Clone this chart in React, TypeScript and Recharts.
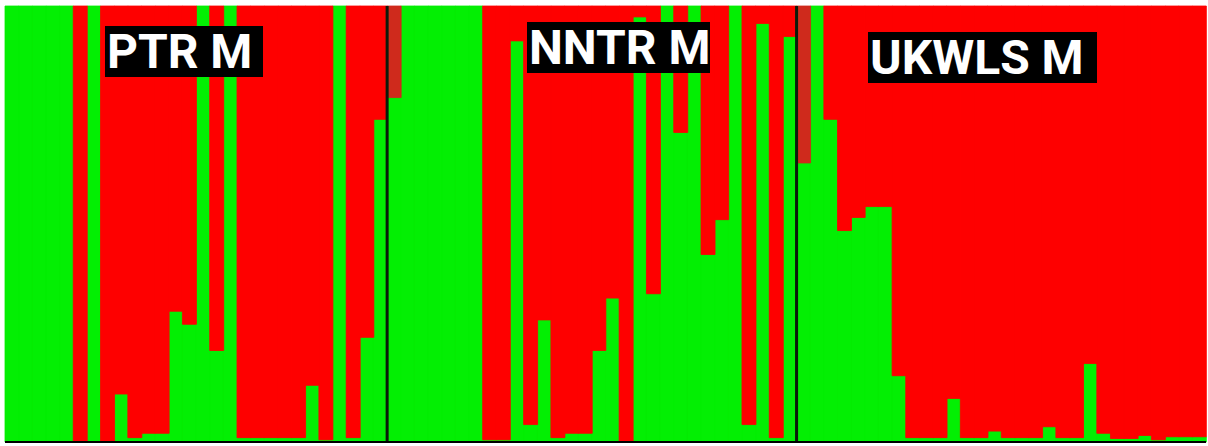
import { BarChart, Bar, XAxis, YAxis, CartesianGrid, ReferenceLine, Cell } from 'recharts';

// green ancestry fraction per individual, read left to right
const ptrGreen = [1, 1, 1, 1, 1, 0, 1, 0, 0.11, 0.01, 0.02, 0.02, 0.3, 0.27, 1, 0.21, 1, 0.01, 0.01, 0.01, 0.01, 0.01, 0.13, 0.005, 1, 0.01, 0.24, 0.74];
const nntrGreen = [0.79, 1, 1, 1, 1, 1, 1, 0.005, 0.005, 0.92, 0.04, 0.28, 0.01, 0.02, 0.02, 0.21, 0.33, 0, 0.975, 0.34, 1, 0.71, 1, 0.43, 0.51, 1, 0.04, 0.96, 0.01, 0.93];
const ukwlsGreen = [0.64, 1, 0.74, 0.485, 0.515, 0.54, 0.54, 0.152, 0.01, 0.01, 0.01, 0.1, 0.01, 0.01, 0.025, 0.01, 0.01, 0.01, 0.035, 0.01, 0.01, 0.18, 0.02, 0.008, 0.008, 0.015, 0.005, 0.012, 0.012, 0.012];

const populations = ['PTR M', 'NNTR M', 'UKWLS M'];

const GREEN = '#03ef03';
const RED = '#fe0000';
const DARK_RED = '#cf2a1c';

const data = [
  ...ptrGreen.map((g, i) => ({ id: `P${i + 1}`, green: g, red: 1 - g })),
  ...nntrGreen.map((g, i) => ({ id: `N${i + 1}`, green: g, red: 1 - g })),
  ...ukwlsGreen.map((g, i) => ({ id: `U${i + 1}`, green: g, red: 1 - g })),
];

// first individual of each later population has the darker red
const darkIds = ['N1', 'U1'];

const labelBoxes = [
  { left: 105, top: 26, width: 158, height: 51 },
  { left: 527, top: 22, width: 183, height: 51 },
  { left: 868, top: 32, width: 229, height: 51 },
];

export default function App() {
  return (
    <div style={{ position: 'absolute', left: 0, top: 0, width: 1208, height: 446, background: '#fff' }}>
      <BarChart
        width={1208}
        height={446}
        data={data}
        margin={{ top: 6, right: 2, left: 5, bottom: 4 }}
        barCategoryGap={0}
        barGap={0}
      >
        <CartesianGrid horizontal={false} vertical={false} fill={RED} />
        <XAxis dataKey="id" hide />
        <YAxis hide domain={[0, 1]} />
        <Bar dataKey="green" stackId="a" fill={GREEN} stroke={GREEN} strokeWidth={0.8} isAnimationActive={false} />
        <Bar dataKey="red" stackId="a" fill={RED} isAnimationActive={false}>
          {data.map((d) => {
            const c = darkIds.includes(d.id) ? DARK_RED : RED;
            return <Cell key={d.id} fill={c} stroke={c} strokeWidth={0.8} />;
          })}
        </Bar>
        <ReferenceLine x="N1" position="start" stroke="#0a1c0a" strokeWidth={3} />
        <ReferenceLine x="U1" position="start" stroke="#0a1c0a" strokeWidth={3} />
        <ReferenceLine y={0} stroke="#000" strokeWidth={2} />
      </BarChart>
      {populations.map((name, i) => (
        <div
          key={name}
          style={{
            position: 'absolute',
            left: labelBoxes[i].left,
            top: labelBoxes[i].top,
            width: labelBoxes[i].width,
            height: labelBoxes[i].height,
            background: '#000',
            color: '#fff',
            fontFamily: 'Roboto, sans-serif',
            fontWeight: 700,
            fontSize: 48,
            lineHeight: `${labelBoxes[i].height}px`,
            paddingLeft: 2,
            boxSizing: 'border-box',
            whiteSpace: 'nowrap',
          }}
        >
          {name}
        </div>
      ))}
    </div>
  );
}
